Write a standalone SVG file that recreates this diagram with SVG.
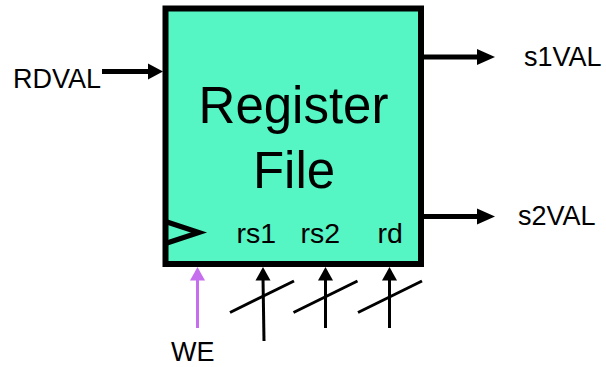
<svg xmlns="http://www.w3.org/2000/svg" width="606" height="367" viewBox="0 0 606 367">
<defs>
<style>
text{font-family:"Liberation Sans",Arial,sans-serif;fill:#000}
.lbl{font-size:27px}
.pin{font-size:28.5px}
.big{font-size:51px;text-anchor:middle}
.w{stroke:#000;stroke-width:5;fill:none}
.t{stroke:#000;stroke-width:3;fill:none}
</style>
</defs>
<rect width="606" height="367" fill="#fff"/>
<g id="regfile">
<rect x="165.5" y="8.5" width="255.5" height="255.5" fill="#55F5C4" stroke="#000" stroke-width="6"/>
<polyline points="167,222 199,232.5 167,243" fill="none" stroke="#000" stroke-width="5"/>
<text class="big" x="293.5" y="123">Register</text>
<text class="big" x="294" y="188">File</text>
<text class="pin" x="236.5" y="243">rs1</text>
<text class="pin" x="300.5" y="243">rs2</text>
<text class="pin" x="377.5" y="243">rd</text>
</g>
<g id="labels">
<text class="lbl" x="13" y="88">RDVAL</text>
<text class="lbl" x="524" y="66">s1VAL</text>
<text class="lbl" x="518" y="225">s2VAL</text>
<text class="lbl" x="171" y="361">WE</text>
</g>
<g id="connectors">
<line class="w" x1="102" y1="71.5" x2="150" y2="71.5"/>
<polygon points="148,63.5 163,71.5 148,79.5" fill="#000"/>
<line class="w" x1="424" y1="57" x2="480" y2="57"/>
<polygon points="477,49 495,57 477,65" fill="#000"/>
<line class="w" x1="424" y1="216.5" x2="480" y2="216.5"/>
<polygon points="477,208.5 495,216.5 477,224.5" fill="#000"/>
<line x1="197.5" y1="328" x2="197.5" y2="278" stroke="#C56FEE" stroke-width="3"/>
<polygon points="190,280.5 197.5,267 205,280.5" fill="#C56FEE"/>
<line class="t" x1="264" y1="341" x2="263" y2="278"/>
<polygon points="255.5,280.5 263,267 270.5,280.5" fill="#000"/>
<line class="t" x1="230" y1="312.5" x2="294" y2="281"/>
<line class="t" x1="325.5" y1="328" x2="325.5" y2="278"/>
<polygon points="318,280.5 325.5,267 333,280.5" fill="#000"/>
<line class="t" x1="293.5" y1="312.5" x2="357.5" y2="281"/>
<line class="t" x1="389.5" y1="328" x2="389.5" y2="278"/>
<polygon points="382,280.5 389.5,267 397,280.5" fill="#000"/>
<line class="t" x1="358" y1="312.5" x2="422" y2="281"/>
</g>
</svg>
